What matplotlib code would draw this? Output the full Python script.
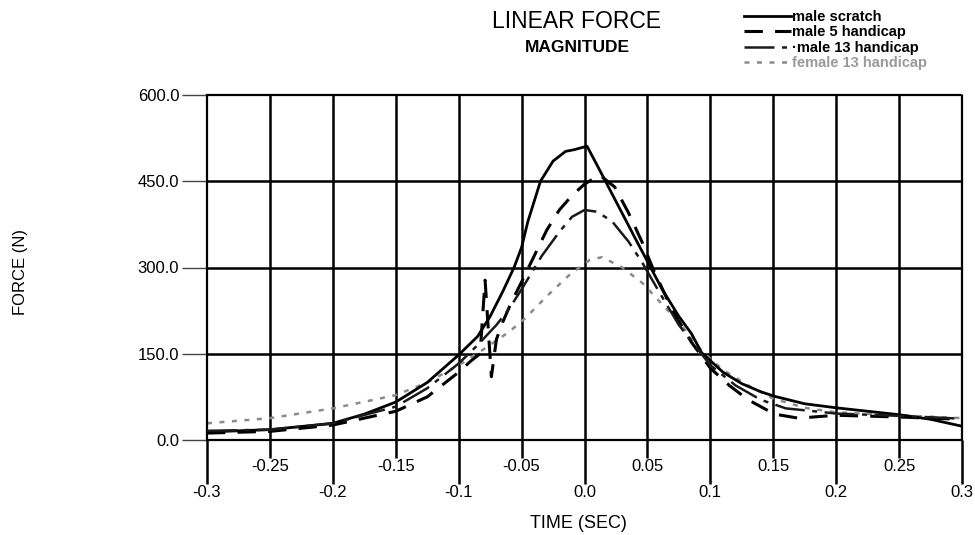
import matplotlib
matplotlib.use("Agg")
import matplotlib.pyplot as plt

plt.rcParams['font.family'] = ['Liberation Sans', 'DejaVu Sans']

# ---- data ----
t_scratch = [-0.3, -0.25, -0.2, -0.175, -0.15, -0.125, -0.1, -0.085, -0.075, -0.065,
             -0.056, -0.05, -0.045, -0.035, -0.025, -0.015, -0.008, 0.002, 0.01, 0.02,
             0.03, 0.04, 0.054, 0.062, 0.075, 0.085, 0.093, 0.11, 0.125, 0.14,
             0.151, 0.175, 0.2, 0.225, 0.25, 0.275, 0.3]
f_scratch = [14, 18, 29, 45, 66, 100, 148, 180, 215, 258,
             300, 335, 380, 450, 485, 502, 505, 511, 478, 436,
             394, 352, 294, 261, 215, 185, 152, 118, 98, 84,
             76, 63, 56, 50, 44, 36, 24]

t_m5 = [-0.3, -0.25, -0.2, -0.15, -0.125, -0.1, -0.09, -0.083, -0.079, -0.074,
        -0.07, -0.065, -0.058, -0.05, -0.04, -0.03, -0.02, -0.01, 0.0, 0.012,
        0.024, 0.035, 0.046, 0.055, 0.07, 0.085, 0.1, 0.115, 0.13, 0.151,
        0.17, 0.2, 0.25, 0.3]
f_m5 = [12, 15, 26, 50, 75, 118, 138, 150, 278, 110,
        175, 205, 240, 275, 320, 365, 400, 425, 445, 461,
        440, 395, 343, 295, 225, 170, 125, 95, 70, 45,
        38, 43, 40, 36]

t_m13 = [-0.3, -0.25, -0.2, -0.15, -0.125, -0.1, -0.085, -0.07, -0.06, -0.05,
         -0.034, -0.02, -0.01, 0.0, 0.01, 0.022, 0.035, 0.046, 0.06, 0.075,
         0.09, 0.1, 0.12, 0.14, 0.16, 0.2, 0.25, 0.3]
f_m13 = [16, 18, 29, 58, 90, 133, 165, 200, 228, 262,
         320, 362, 388, 400, 397, 380, 345, 308, 255, 200,
         158, 130, 95, 70, 55, 46, 42, 37]

t_f13 = [-0.3, -0.25, -0.2, -0.15, -0.125, -0.1, -0.08, -0.06, -0.047, -0.03,
         -0.012, 0.004, 0.014, 0.03, 0.046, 0.06, 0.075, 0.093, 0.11, 0.13,
         0.15, 0.175, 0.2, 0.25, 0.3]
f_f13 = [29, 38, 55, 78, 100, 130, 158, 188, 212, 250,
         287, 313, 318, 300, 273, 240, 205, 155, 122, 95,
         72, 56, 48, 43, 38]

xticks_major = [-0.3, -0.2, -0.1, 0.0, 0.1, 0.2, 0.3]
xlabels_major = ['-0.3', '-0.2', '-0.1', '0.0', '0.1', '0.2', '0.3']
xticks_minor = [-0.25, -0.15, -0.05, 0.05, 0.15, 0.25]
xlabels_minor = ['-0.25', '-0.15', '-0.05', '0.05', '0.15', '0.25']
yticks = [0, 150, 300, 450, 600]
ylabels = ['0.0', '150.0', '300.0', '450.0', '600.0']

fig = plt.figure(figsize=(9.75, 5.35), dpi=100)
ax = fig.add_axes([207/975, 1-440/535, (962-207)/975, (440-95)/535])

ax.set_xlim(-0.3, 0.3)
ax.set_ylim(0, 600)

# inner grid lines, heavy black
for xv in xticks_major + xticks_minor:
    if -0.3 < xv < 0.3:
        ax.axvline(xv, color='black', lw=1.8, zorder=1)
for yv in yticks:
    if 0 < yv < 600:
        ax.axhline(yv, color='black', lw=1.8, zorder=1)

for s in ax.spines.values():
    s.set_linestyle((0, (1, 1)))
    s.set_linewidth(1.6)
    s.set_color('black')

ax.plot(t_scratch, f_scratch, color='black', lw=2.0, ls='-', label='male scratch', zorder=3)
ax.plot(t_m5, f_m5, color='black', lw=2.2, ls=(0, (6, 4)), label='male 5 handicap', zorder=3)
ax.plot(t_m13, f_m13, color='#1a1a1a', lw=1.8, ls=(0, (12, 3, 2, 3)), label='\u00b7male 13 handicap', zorder=3)
ax.plot(t_f13, f_f13, color='#8a8a8a', lw=1.8, ls=(0, (2, 3)), label='female 13 handicap', zorder=2)

ax.set_xticks(xticks_major)
ax.set_xticklabels(xlabels_major)
ax.set_xticks(xticks_minor, minor=True)
ax.set_xticklabels(xlabels_minor, minor=True)
ax.tick_params(axis='x', which='major', length=32, width=1.8, color='black', pad=0.5, labelsize=12)
ax.tick_params(axis='x', which='minor', length=13, width=1.8, color='black', pad=0.5, labelsize=12)

ax.set_yticks(yticks)
ax.set_yticklabels(ylabels)
ax.tick_params(axis='y', length=18, width=1.0, color='#444444', pad=2, labelsize=12)

fig.text(21/975, 1-272/535, 'FORCE (N)', rotation=90, ha='center', va='center', fontsize=12)
fig.text(578/975, 1-524/535, 'TIME (SEC)', ha='center', va='center', fontsize=13)
fig.text(576/975, 1-21/535, 'LINEAR FORCE', ha='center', va='center', fontsize=16.5)
fig.text(577/975, 1-48/535, 'MAGNITUDE', ha='center', va='center', fontsize=12.5, weight='semibold')

leg = fig.legend(loc='upper left', bbox_to_anchor=(738/975, 1-4/535), frameon=False,
                 handlelength=3.2, handletextpad=0.1, labelspacing=0.1,
                 prop={'weight': 'bold', 'size': 10.5}, borderaxespad=0)
for txt in leg.get_texts():
    if txt.get_text().startswith('female'):
        txt.set_color('#9a9a9a')

fig.savefig('out.png', dpi=100, facecolor='white')
